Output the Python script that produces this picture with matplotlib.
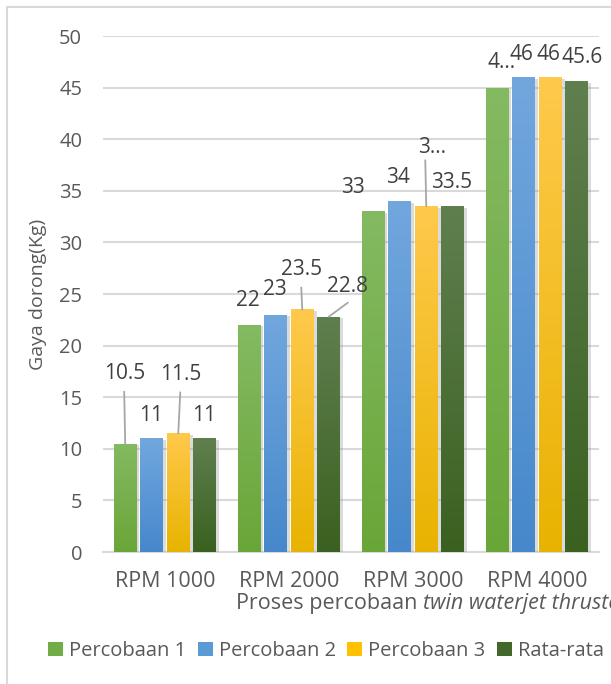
import matplotlib.pyplot as plt
import numpy as np
from matplotlib import patheffects
from matplotlib.colors import LinearSegmentedColormap
from matplotlib.patches import Patch, Rectangle

plt.rcParams['font.family'] = ['Open Sans', 'DejaVu Sans']

categories = ['RPM 1000', 'RPM 2000', 'RPM 3000', 'RPM 4000']
series_names = ['Percobaan 1', 'Percobaan 2', 'Percobaan 3', 'Rata-rata']
percobaan1 = [10.5, 22, 33, 45]
percobaan2 = [11, 23, 34, 46]
percobaan3 = [11.5, 23.5, 33.5, 46]
rata_rata = [11, 22.8, 33.5, 45.6]
yticks = [0, 5, 10, 15, 20, 25, 30, 35, 40, 45, 50]

# shown label text (Excel truncates a couple of them)
label_text = [
    ['10.5', '22', '33', '4...'],
    ['11', '23', '34', '46'],
    ['11.5', '23.5', '3...', '46'],
    ['11', '22.8', '33.5', '45.6'],
]
# label offsets from bar top (pixels) and leader line end offsets (None = no leader)
label_off = [
    [(-1, 70), (-1, 24), (-20, 24), (4, 25)],
    [(-1, 23), (-1, 25), (-2, 24), (-2, 23)],
    [(2, 59), (-1, 40), (6, 59), (-2, 23)],
    [(-1, 23), (19, 30), (-1, 24), (5, 24)],
]
leader_off = [
    [(-1, 52), None, None, None],
    [None, None, None, None],
    [(2, 41), (-1, 22), (-1, 46), None],
    [None, (19, 14), None, None],
]

top_colors = ['#84ba62', '#72a7de', '#ffc94c', '#607f4f']
bottom_colors = ['#69a638', '#4688cb', '#e8b300', '#3a6120']
base_colors = ['#70ad47', '#5b9bd5', '#ffc000', '#43682b']

data = [percobaan1, percobaan2, percobaan3, rata_rata]

fig = plt.figure(figsize=(6.11, 6.84), dpi=100)
ax = fig.add_axes([103 / 611, 132 / 684, 496 / 611, 516 / 684])

# chart border (cropped on right/bottom)
fig.patches.append(Rectangle((7 / 611, -0.05), 1.2, (684 - 7) / 684 + 0.05,
                             transform=fig.transFigure, fill=False,
                             edgecolor='#d9d9d9', lw=1.5))

x = np.arange(len(categories))
width = 0.185
step = 0.214
grad = np.linspace(0, 1, 256).reshape(-1, 1)

for i, vals in enumerate(data):
    pos = x + (i - 1.5) * step
    bars = ax.bar(pos, vals, width, color=base_colors[i], zorder=3)
    cmap = LinearSegmentedColormap.from_list('g%d' % i, [bottom_colors[i], top_colors[i]])
    for j, b in enumerate(bars):
        b.set_path_effects([patheffects.SimplePatchShadow(offset=(2, -1), shadow_rgbFace='#999999', alpha=0.35),
                            patheffects.Normal()])
        im = ax.imshow(grad, extent=(b.get_x(), b.get_x() + b.get_width(), 0, b.get_height()),
                       origin='lower', cmap=cmap, aspect='auto', zorder=3.5)
        im.set_clip_path(b)
        ax.annotate(label_text[i][j], xy=(pos[j], vals[j]), xytext=label_off[i][j],
                    textcoords='offset pixels', ha='center', va='center',
                    fontsize=15, color='#404040', zorder=5)
        if leader_off[i][j] is not None:
            ax.annotate('', xy=(pos[j], vals[j]), xytext=leader_off[i][j],
                        textcoords='offset pixels',
                        arrowprops=dict(arrowstyle='-', color='#a6a6a6', lw=1.3,
                                        shrinkA=0, shrinkB=0), zorder=4)

ax.set_xlim(-0.5, 3.5)
ax.set_ylim(0, 50)
ax.set_yticks(yticks)
ax.set_xticks(x)
ax.set_xticklabels(categories)
ax.yaxis.grid(True, color='#d9d9d9', lw=1.5, zorder=0)
ax.set_axisbelow(True)
for s in ['top', 'right', 'left']:
    ax.spines[s].set_visible(False)
ax.spines['bottom'].set_color('#d9d9d9')
ax.spines['bottom'].set_linewidth(1.5)
ax.tick_params(axis='y', length=0, pad=15, labelsize=14.5, labelcolor='#595959')
ax.tick_params(axis='x', length=0, pad=14, labelsize=15.5, labelcolor='#595959')

ax.set_ylabel('Gaya dorong(Kg)', fontsize=14, color='#595959', labelpad=9)

t1 = fig.text(236 / 611, 1 - 604 / 684, 'Proses percobaan ', fontsize=15.5,
              color='#595959', ha='left', va='center')
ax.annotate('twin waterjet thruster', xy=(1, 0), xycoords=t1, fontsize=15.5,
            color='#595959', style='italic', ha='left', va='bottom',
            annotation_clip=False)

handles = [Patch(facecolor=c) for c in base_colors]
fig.legend(handles, series_names, loc='center', bbox_to_anchor=(326 / 611, 1 - 651 / 684),
           ncol=4, frameon=False, fontsize=14.5, labelcolor='#595959',
           handlelength=0.75, handleheight=0.75, handletextpad=0.3, columnspacing=0.55,
           borderpad=0)

fig.savefig('out.png', dpi=100)
